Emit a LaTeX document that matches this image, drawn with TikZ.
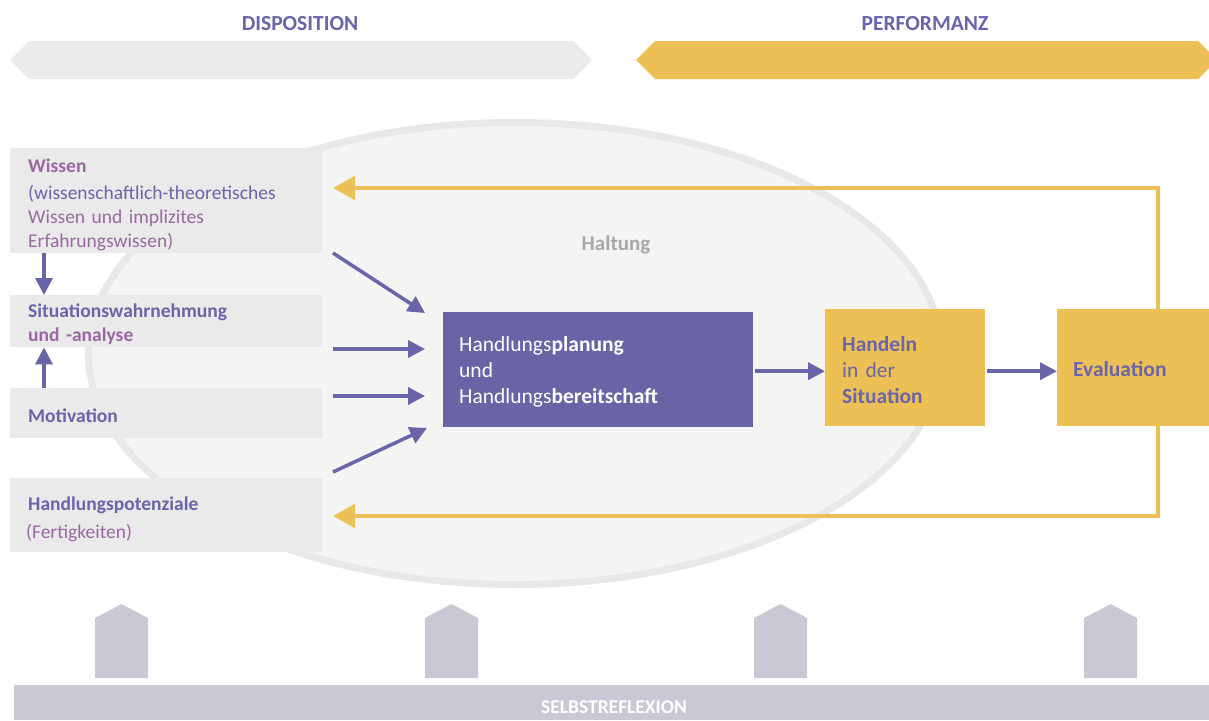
\documentclass[tikz,border=0pt]{standalone}
\usepackage{fontspec}
\setmainfont{Carlito}
\usetikzlibrary{arrows.meta,calc}
\definecolor{purp}{HTML}{6A64A8}
\definecolor{boxpurp}{HTML}{6864A6}
\definecolor{mag}{HTML}{9A67A2}
\definecolor{ylw}{HTML}{EDC055}
\definecolor{lgrey}{HTML}{EAEAEA}
\definecolor{hdrgrey}{HTML}{EBEBEA}
\definecolor{ellfill}{HTML}{F4F4F2}
\definecolor{elledge}{HTML}{E8E8E6}
\definecolor{housegrey}{HTML}{C9C9D6}
\definecolor{haltgrey}{HTML}{A8A8A8}
\newcommand{\topstrut}[1]{\rule{0pt}{#1}}
\begin{document}
\begin{tikzpicture}[x=1pt,y=-1pt,
  leftbox/.style={fill=lgrey, anchor=north west, minimum width=312pt, text width=276pt,
    inner xsep=18pt, inner ysep=0pt, align=left, font=\fontsize{19.5}{24}\selectfont, text=purp},
  midbox/.style={anchor=north west, inner ysep=0pt, align=left,
    font=\fontsize{21.5}{26}\selectfont},
  title/.style={font=\fontsize{21.5}{24}\selectfont\bfseries, text=purp},
  parrow/.style={draw=purp, line width=3.5pt, -{Triangle[length=17pt,width=17pt]}},
  yarrow/.style={draw=ylw, line width=4.5pt, -{Triangle[length=22pt,width=23pt]}},
  housestyle/.style={fill=housegrey}
]
\useasboundingbox (0,0) rectangle (1209,720);

% header bands
\fill[hdrgrey] (10,60) -- (29,41) -- (573,41) -- (592,60) -- (573,79) -- (29,79) -- cycle;
\fill[ylw] (636,60) -- (655,41) -- (1198,41) -- (1217,60) -- (1198,79) -- (655,79) -- cycle;
\node[title] (disp) at (300,24) {DISPOSITION};
\node[title] (perf) at (925,24) {PERFORMANZ};

% attitude ellipse
\draw[fill=ellfill, draw=elledge, line width=7pt] (515,353.5) ellipse [x radius=426.5, y radius=231];
\node[font=\fontsize{21}{24}\selectfont\bfseries, text=haltgrey] (halt) at (616,245) {Haltung};

% left boxes
\node[leftbox, minimum height=105pt] (wissen) at (10,148)
  {\topstrut{21pt}\textcolor{mag}{\textbf{Wissen}}\\[3pt]
   (wissenschaftlich-theoretisches\\
   \textcolor{mag}{Wissen und implizites}\\
   \textcolor{mag}{Erfahrungswissen)}};
\node[leftbox, minimum height=52pt] (sit) at (10,295)
  {\topstrut{20pt}\textbf{Situationswahrnehmung}\\ \textcolor{mag}{\textbf{und -analyse}}};
\node[leftbox, minimum height=50pt] (mot) at (10,388) {\topstrut{19pt}\textbf{Motivation}};
\node[leftbox, minimum height=74pt, font=\fontsize{19.5}{28}\selectfont] (pot) at (10,478)
  {\topstrut{21pt}\textbf{Handlungspotenziale}\\ \hspace*{-2pt}\textcolor{mag}{(Fertigkeiten)}};

\draw[parrow] ([xshift=34pt]wissen.south west) -- ([xshift=34pt]sit.north west);
\draw[parrow] ([xshift=34pt]mot.north west) -- ([xshift=34pt]sit.south west);

% central boxes
\node[midbox, fill=boxpurp, text=white, minimum width=310pt, minimum height=115pt,
  text width=278pt, inner xsep=16pt] (plan) at (443,312)
  {\topstrut{20pt}Handlungs\textbf{planung}\\ und\\ Handlungs\textbf{bereitschaft}};
\node[midbox, fill=ylw, text=purp, minimum width=160pt, minimum height=117pt,
  text width=126pt, inner xsep=17pt] (handeln) at (825,309)
  {\topstrut{20pt}\textbf{Handeln}\\ in der\\ \textbf{Situation}};
\node[midbox, fill=ylw, text=purp, minimum width=152pt, minimum height=117pt,
  text width=120pt, inner xsep=16pt] (eval) at (1057,309)
  {\topstrut{17pt}\textbf{Evaluation}};

% inputs to planning
\coordinate (s1) at (333,253); \coordinate (e1) at (425,313);
\coordinate (s2) at (333,349); \coordinate (e2) at (425,349);
\coordinate (s3) at (333,396); \coordinate (e3) at (425,396);
\coordinate (s4) at (333,472); \coordinate (e4) at (427,428);
\draw[parrow] (s1) -- (e1);
\draw[parrow] (s2) -- (e2);
\draw[parrow] (s3) -- (e3);
\draw[parrow] (s4) -- (e4);

\draw[parrow] ([xshift=2pt,yshift=-1.5pt]plan.east) -- ([yshift=-1.5pt]plan.east -| handeln.west);
\draw[parrow] ([xshift=2pt,yshift=-3.5pt]handeln.east) -- ([yshift=-3.5pt]eval.west);

% feedback loops
\coordinate (fb1) at (333,188);
\coordinate (fb2) at (333,516);
\draw[yarrow] ([xshift=25pt]eval.north) |- (fb1);
\draw[yarrow] ([xshift=25pt]eval.south) |- (fb2);

% self-reflection supports
\foreach \x in {95,425,754,1084} {
  \fill[housestyle] (\x,678) -- (\x,618) -- ({\x+26.5},604) -- ({\x+53},618) -- ({\x+53},678) -- cycle;
}
\fill[housegrey] (14,685) rectangle (1209,720);
\node[font=\fontsize{19.5}{20}\selectfont\bfseries, text=white] (selbst) at (614,707) {SELBSTREFLEXION};
\end{tikzpicture}
\end{document}
